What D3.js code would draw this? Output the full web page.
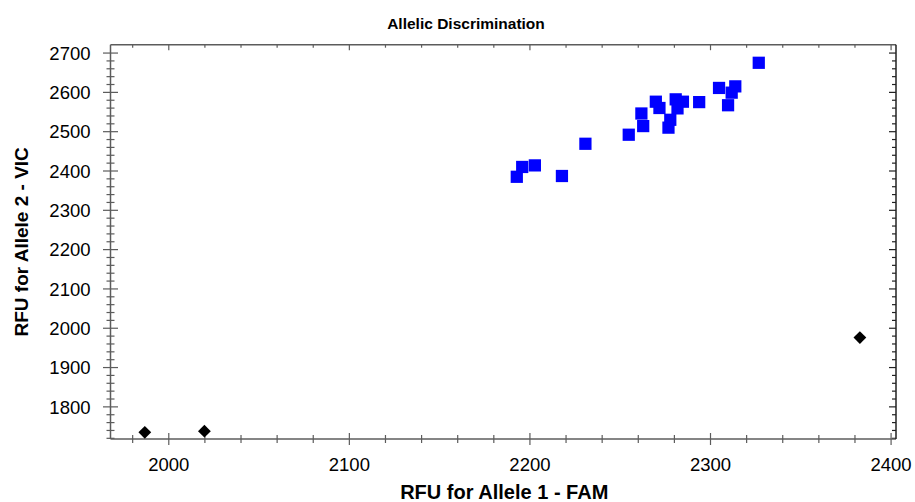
<!DOCTYPE html>
<html>
<head>
<meta charset="utf-8">
<script src="https://cdn.jsdelivr.net/npm/d3@7"></script>
<style>
  html, body { margin: 0; padding: 0; background: #fff; }
  svg { display: block; font-family: "Liberation Sans", Arial, sans-serif; }
</style>
</head>
<body>
<svg id="chart" width="915" height="502"></svg>
<script>
// ---- data ----
const chartTitle = "Allelic Discrimination";
const xTitle = "RFU for Allele 1 - FAM";
const yTitle = "RFU for Allele 2 - VIC";

// blue squares (cluster)
const famBlue = [2327, 2305, 2314, 2312, 2310, 2294, 2281, 2285, 2282, 2270, 2272, 2262, 2278, 2277, 2263, 2255, 2231, 2203, 2196, 2193, 2218];
const vicBlue = [2674, 2610, 2614, 2598, 2566, 2574, 2581, 2575, 2558, 2575, 2559, 2545, 2529, 2509, 2513, 2491, 2468, 2413, 2409, 2384, 2386];

// black diamonds
const famBlack = [1987, 2020, 2383];
const vicBlack = [1734, 1737, 1975];

const xDomain = [1968, 2403];
const yDomain = [1717, 2720];
const xMajor = [2000, 2100, 2200, 2300, 2400];
const yMajor = [1800, 1900, 2000, 2100, 2200, 2300, 2400, 2500, 2600, 2700];
const xMinor = [1980, 2020, 2040, 2060, 2080, 2120, 2140, 2160, 2180, 2220, 2240, 2260, 2280, 2320, 2340, 2360, 2380];
const yMinor = [1720, 1740, 1760, 1780, 1820, 1840, 1860, 1880, 1920, 1940, 1960, 1980, 2020, 2040, 2060, 2080,
                2120, 2140, 2160, 2180, 2220, 2240, 2260, 2280, 2320, 2340, 2360, 2380, 2420, 2440, 2460, 2480,
                2520, 2540, 2560, 2580, 2620, 2640, 2660, 2680];

// ---- layout ----
const L = 110.5, R = 896, T = 44.7, B = 439;
const svg = d3.select("#chart");
const x = d3.scaleLinear().domain(xDomain).range([L, R]);
const y = d3.scaleLinear().domain(yDomain).range([B, T]);
const axisColor = "#5c5c5c";

function styleAxis(g, color) {
  g.select(".domain").remove();
  g.selectAll(".tick line").attr("stroke", color).attr("stroke-width", 1.2);
}

// bottom axis: crossing ticks
const gb = svg.append("g").attr("transform", `translate(0,${B})`);
gb.append("g").call(d3.axisBottom(x).tickValues(xMajor).tickSize(6).tickFormat(d3.format("d")))
  .call(g => { styleAxis(g, axisColor);
    g.selectAll("text").attr("y", 32).attr("dy", 0).attr("fill", "#000")
      .style("font-size", "18.5px").style("font-family", "'Liberation Sans', Arial, sans-serif"); });
gb.append("g").call(d3.axisTop(x).tickValues(xMajor).tickSize(6).tickFormat("")).call(g => styleAxis(g, axisColor));
gb.append("g").call(d3.axisBottom(x).tickValues(xMinor).tickSize(4).tickFormat("")).call(g => styleAxis(g, axisColor));
gb.append("g").call(d3.axisTop(x).tickValues(xMinor).tickSize(4).tickFormat("")).call(g => styleAxis(g, axisColor));

// left axis: crossing ticks
const gl = svg.append("g").attr("transform", `translate(${L},0)`);
gl.append("g").call(d3.axisLeft(y).tickValues(yMajor).tickSize(7.5).tickFormat(d3.format("d")))
  .call(g => { styleAxis(g, axisColor);
    g.selectAll("text").attr("x", -20).attr("dy", "0.36em").attr("fill", "#000")
      .style("font-size", "18.5px").style("font-family", "'Liberation Sans', Arial, sans-serif"); });
gl.append("g").call(d3.axisRight(y).tickValues(yMajor).tickSize(7.5).tickFormat("")).call(g => styleAxis(g, axisColor));
gl.append("g").call(d3.axisLeft(y).tickValues(yMinor).tickSize(4).tickFormat("")).call(g => styleAxis(g, axisColor));
gl.append("g").call(d3.axisRight(y).tickValues(yMinor).tickSize(4).tickFormat("")).call(g => styleAxis(g, axisColor));

// top axis: inward ticks
const gt = svg.append("g").attr("transform", `translate(0,${T})`);
gt.append("g").call(d3.axisBottom(x).tickValues(xMajor).tickSize(5.5).tickFormat("")).call(g => styleAxis(g, axisColor));
gt.append("g").call(d3.axisBottom(x).tickValues(xMinor).tickSize(3).tickFormat("")).call(g => styleAxis(g, axisColor));

// right axis: inward ticks
const gr = svg.append("g").attr("transform", `translate(${R},0)`);
gr.append("g").call(d3.axisLeft(y).tickValues(yMajor).tickSize(7).tickFormat("")).call(g => styleAxis(g, "#222"));
gr.append("g").call(d3.axisLeft(y).tickValues(yMinor).tickSize(4).tickFormat("")).call(g => styleAxis(g, "#222"));

// frame
svg.append("line").attr("x1", L).attr("x2", R).attr("y1", T).attr("y2", T).attr("stroke", axisColor).attr("stroke-width", 1.5);
svg.append("line").attr("x1", L).attr("x2", R).attr("y1", B).attr("y2", B).attr("stroke", axisColor).attr("stroke-width", 1.5);
svg.append("line").attr("x1", L).attr("x2", L).attr("y1", T).attr("y2", B).attr("stroke", axisColor).attr("stroke-width", 1.5);
svg.append("line").attr("x1", R).attr("x2", R).attr("y1", T).attr("y2", B).attr("stroke", "#222").attr("stroke-width", 1.5);

// points
const blue = famBlue.map((f, i) => ({ f, v: vicBlue[i] }));
const black = famBlack.map((f, i) => ({ f, v: vicBlack[i] }));
const sq = d3.symbol().type(d3.symbolSquare).size(150);
svg.append("g").selectAll("path").data(blue).join("path")
  .attr("d", sq)
  .attr("transform", d => `translate(${x(d.f)},${y(d.v)})`)
  .attr("fill", "#0000ff");
const dm = d3.symbol().type(d3.symbolSquare).size(82);
svg.append("g").selectAll("path").data(black).join("path")
  .attr("d", dm)
  .attr("transform", d => `translate(${x(d.f)},${y(d.v)}) rotate(45)`)
  .attr("fill", "#000");

// titles
svg.append("text").attr("x", 466).attr("y", 29).attr("text-anchor", "middle")
  .style("font-size", "15.5px").style("font-weight", "bold").attr("fill", "#000").text(chartTitle);
svg.append("text").attr("x", (L + R) / 2 + 1).attr("y", 499).attr("text-anchor", "middle")
  .style("font-size", "20px").style("font-weight", "bold").attr("fill", "#000").text(xTitle);
svg.append("text").attr("transform", `translate(28,${(T + B) / 2}) rotate(-90)`).attr("text-anchor", "middle")
  .style("font-size", "19px").style("font-weight", "bold").attr("fill", "#000").text(yTitle);
</script>
</body>
</html>
